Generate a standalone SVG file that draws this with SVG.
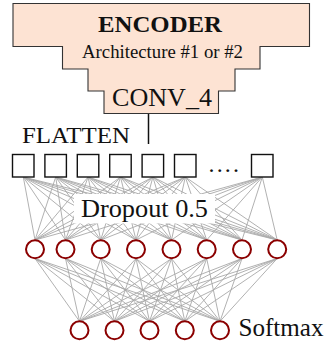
<svg xmlns="http://www.w3.org/2000/svg" width="326" height="346" viewBox="0 0 326 346">
<style>
  text { font-family: "Liberation Serif", "Times New Roman", serif; fill: #111; }
  .fit { lengthAdjust: spacingAndGlyphs; }
  .edge { stroke: #a8a8a8; stroke-width: 0.9; fill: none; }
  .sq { fill: #fff; stroke: #111; stroke-width: 1.4; }
  .neu { fill: #fff; stroke: #8b0000; stroke-width: 2; }
</style>
<rect width="326" height="346" fill="#fff"/>
<g id="encoder">
  <path d="M13 3.5H309.5V46.5H260V69H235V91H218.5V113.5H104V91H88V69H62.5V46.5H13Z" fill="#fde3d3" stroke="#333" stroke-width="1.1"/>
  <text x="98" y="31.5" font-size="24" font-weight="bold" textLength="124" lengthAdjust="spacingAndGlyphs">ENCODER</text>
  <text x="82" y="57.5" font-size="18" textLength="161" lengthAdjust="spacingAndGlyphs">Architecture #1 or #2</text>
  <text x="112" y="106" font-size="26" textLength="100" lengthAdjust="spacingAndGlyphs">CONV_4</text>
</g>
<g id="flatten">
  <text x="22" y="143.3" font-size="24" textLength="108" lengthAdjust="spacingAndGlyphs">FLATTEN</text>
  <line x1="148.5" y1="114" x2="148.5" y2="144" stroke="#111" stroke-width="1.5"/>
</g>
<g id="connectors">
  <path class="edge" d="M23.3 177L35 240M23.3 177L65.5 240M23.3 177L100.7 240M23.3 177L136 240M23.3 177L171.5 240M23.3 177L206.7 240M23.3 177L242 240M23.3 177L277.2 240"/>
  <path class="edge" d="M55.7 177L35 240M55.7 177L65.5 240M55.7 177L100.7 240M55.7 177L136 240M55.7 177L171.5 240M55.7 177L206.7 240M55.7 177L242 240M55.7 177L277.2 240"/>
  <path class="edge" d="M88.1 177L35 240M88.1 177L65.5 240M88.1 177L100.7 240M88.1 177L136 240M88.1 177L171.5 240M88.1 177L206.7 240M88.1 177L242 240M88.1 177L277.2 240"/>
  <path class="edge" d="M120.5 177L35 240M120.5 177L65.5 240M120.5 177L100.7 240M120.5 177L136 240M120.5 177L171.5 240M120.5 177L206.7 240M120.5 177L242 240M120.5 177L277.2 240"/>
  <path class="edge" d="M152.9 177L35 240M152.9 177L65.5 240M152.9 177L100.7 240M152.9 177L136 240M152.9 177L171.5 240M152.9 177L206.7 240M152.9 177L242 240M152.9 177L277.2 240"/>
  <path class="edge" d="M185.3 177L35 240M185.3 177L65.5 240M185.3 177L100.7 240M185.3 177L136 240M185.3 177L171.5 240M185.3 177L206.7 240M185.3 177L242 240M185.3 177L277.2 240"/>
  <path class="edge" d="M262.3 177L35 240M262.3 177L65.5 240M262.3 177L100.7 240M262.3 177L136 240M262.3 177L171.5 240M262.3 177L206.7 240M262.3 177L242 240M262.3 177L277.2 240"/>
  <path class="edge" d="M35 258.5L79.5 321.3M35 258.5L114.5 321.3M35 258.5L149.5 321.3M35 258.5L184.8 321.3M35 258.5L220 321.3"/>
  <path class="edge" d="M65.5 258.5L79.5 321.3M65.5 258.5L114.5 321.3M65.5 258.5L149.5 321.3M65.5 258.5L184.8 321.3M65.5 258.5L220 321.3"/>
  <path class="edge" d="M100.7 258.5L79.5 321.3M100.7 258.5L114.5 321.3M100.7 258.5L149.5 321.3M100.7 258.5L184.8 321.3M100.7 258.5L220 321.3"/>
  <path class="edge" d="M136 258.5L79.5 321.3M136 258.5L114.5 321.3M136 258.5L149.5 321.3M136 258.5L184.8 321.3M136 258.5L220 321.3"/>
  <path class="edge" d="M171.5 258.5L79.5 321.3M171.5 258.5L114.5 321.3M171.5 258.5L149.5 321.3M171.5 258.5L184.8 321.3M171.5 258.5L220 321.3"/>
  <path class="edge" d="M206.7 258.5L79.5 321.3M206.7 258.5L114.5 321.3M206.7 258.5L149.5 321.3M206.7 258.5L184.8 321.3M206.7 258.5L220 321.3"/>
  <path class="edge" d="M242 258.5L79.5 321.3M242 258.5L114.5 321.3M242 258.5L149.5 321.3M242 258.5L184.8 321.3M242 258.5L220 321.3"/>
  <path class="edge" d="M277.2 258.5L79.5 321.3M277.2 258.5L114.5 321.3M277.2 258.5L149.5 321.3M277.2 258.5L184.8 321.3M277.2 258.5L220 321.3"/>
</g>
<g id="dropout">
  <rect x="74" y="194" width="141" height="29.5" fill="#fff"/>
  <text x="81" y="216.7" font-size="26" textLength="127" lengthAdjust="spacingAndGlyphs">Dropout 0.5</text>
</g>
<g id="input-layer">
  <rect class="sq" x="12.5" y="154.5" width="21.5" height="22.5"/>
  <rect class="sq" x="44.9" y="154.5" width="21.5" height="22.5"/>
  <rect class="sq" x="77.3" y="154.5" width="21.5" height="22.5"/>
  <rect class="sq" x="109.7" y="154.5" width="21.5" height="22.5"/>
  <rect class="sq" x="142.1" y="154.5" width="21.5" height="22.5"/>
  <rect class="sq" x="174.5" y="154.5" width="21.5" height="22.5"/>
  <text x="208.6" y="171.8" font-size="24" textLength="30.3">....</text>
  <rect class="sq" x="251.5" y="154.5" width="21.5" height="22.5"/>
</g>
<g id="hidden-layer">
  <circle class="neu" cx="35" cy="249.3" r="9"/>
  <circle class="neu" cx="65.5" cy="249.3" r="9"/>
  <circle class="neu" cx="100.7" cy="249.3" r="9"/>
  <circle class="neu" cx="136" cy="249.3" r="9"/>
  <circle class="neu" cx="171.5" cy="249.3" r="9"/>
  <circle class="neu" cx="206.7" cy="249.3" r="9"/>
  <circle class="neu" cx="242" cy="249.3" r="9"/>
  <circle class="neu" cx="277.2" cy="249.3" r="9"/>
</g>
<g id="output-layer">
  <circle class="neu" cx="79.5" cy="330.3" r="9"/>
  <circle class="neu" cx="114.5" cy="330.3" r="9"/>
  <circle class="neu" cx="149.5" cy="330.3" r="9"/>
  <circle class="neu" cx="184.8" cy="330.3" r="9"/>
  <circle class="neu" cx="220" cy="330.3" r="9"/>
  <text x="238.5" y="335.8" font-size="25" textLength="85" lengthAdjust="spacingAndGlyphs">Softmax</text>
</g>
</svg>
